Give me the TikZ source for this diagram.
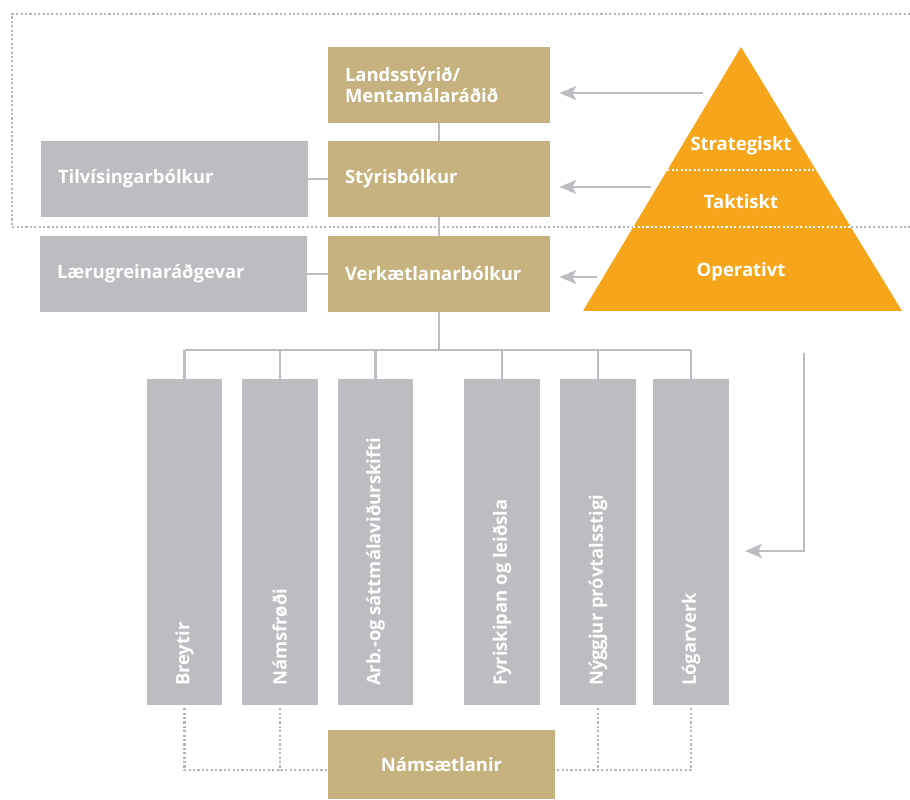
\documentclass[tikz,border=0pt]{standalone}
\usepackage{fontspec}
\setmainfont{Open Sans}
\usetikzlibrary{arrows.meta,calc}
\definecolor{tan}{RGB}{198,178,126}
\definecolor{boxgray}{RGB}{188,189,192}
\definecolor{pyrorange}{RGB}{247,166,28}
\definecolor{framegray}{RGB}{178,179,181}

\begin{document}
\begin{tikzpicture}[x=0.02cm,y=-0.02cm,
  txt/.style={text=white,font=\bfseries\fontsize{10.5}{12.5}\selectfont},
  tanbox/.style={txt,fill=tan,minimum width=4.44cm,minimum height=1.52cm,text width=3.76cm,inner xsep=0.34cm,align=left},
  graybox/.style={txt,fill=boxgray,minimum width=5.34cm,minimum height=1.52cm,text width=4.66cm,inner xsep=0.34cm,align=left},
  colbox/.style={fill=boxgray,minimum width=1.52cm,minimum height=6.52cm,inner sep=0pt},
  coltext/.style={txt,rotate=90,anchor=west,inner sep=0pt},
  conn/.style={draw=boxgray,line width=1.2pt},
  arr/.style={draw=boxgray,line width=1.6pt,-{Stealth[length=0.34cm,width=0.28cm,inset=0.08cm]}},
  dotline/.style={draw=framegray,line width=1.25pt,dash pattern=on 1.2pt off 1.3pt}]

\useasboundingbox (0,0) rectangle (910,800);

% dotted frame
\draw[dotline] (910,14) -- (12,14) -- (12,227) -- (910,227);

% left column of boxes
\node[tanbox] (lands) at (439,85) {Landsstýrið/\\Mentamálaráðið};
\node[tanbox] (styris) at (439,179) {Stýrisbólkur};
\node[tanbox] (verk) at (439,274) {Verkætlanarbólkur};
\node[graybox] (tilv) at (174.5,179) {Tilvísingarbólkur};
\node[graybox] (laer) at (173.5,274) {Lærugreinaráðgevar};

\draw[conn] (lands.south) -- (styris.north);
\draw[conn] (styris.south) -- (verk.north);
\draw[conn] (tilv.east) -- (styris.west);
\draw[conn] (laer.east) -- (verk.west);

% pyramid
\coordinate (apex) at (741,47);
\coordinate (bl) at (583,311);
\coordinate (br) at (902,311);
\fill[pyrorange] (apex) -- (bl) -- (br) -- cycle;
\draw[white,line width=1.25pt,dash pattern=on 1.2pt off 1.3pt] ($(apex)!0.466!(bl)$) -- ($(apex)!0.466!(br)$);
\draw[white,line width=1.25pt,dash pattern=on 1.2pt off 1.3pt] ($(apex)!0.682!(bl)$) -- ($(apex)!0.682!(br)$);
\node[txt] (strat) at (741,146) {Strategiskt};
\node[txt] (takt) at (741,202) {Taktiskt};
\node[txt] (oper) at (741,272) {Operativt};

% arrows from the pyramid
\coordinate (a1) at (703,93);
\coordinate (a2) at (651,187);
\coordinate (a3) at (597,277);
\draw[arr,shorten >=0.18cm] (a1) -- (a1 -| lands.east);
\draw[arr,shorten >=0.18cm] (a2) -- (a2 -| styris.east);
\draw[arr,shorten >=0.18cm] (a3) -- (a3 -| verk.east);

% columns
\coordinate (split) at (439,350);
\draw[conn] (verk.south) -- (split);
\foreach \x/\name/\label in {184.5/breytir/Breytir, 280/namsf/Námsfrøði,
    375.5/arb/Arb.-og sáttmálaviðurskifti, 502/fyri/Fyriskipan og leiðsla,
    598/nyggj/Nýggjur próvtalsstigi, 691/logar/Lógarverk}
{
  \node[colbox] (\name) at (\x,542) {};
  \node[coltext] (\name-t) at ([yshift=0.38cm]\name.south) {\label};
  \draw[conn] (\name.north) -- (\name.north |- split);
}
\draw[conn] (breytir.north |- split) -- (logar.north |- split);

\coordinate (r1) at (804,353);
\coordinate (r2) at (745,551);
\draw[arr] (r1) |- (r2);

% Námsætlanir
\node[txt,fill=tan,minimum width=4.54cm,minimum height=1.38cm] (nams) at (441.5,764.5) {Námsætlanir};
\coordinate (nw) at ([yshift=-0.11cm]nams.west);
\coordinate (ne) at ([yshift=-0.11cm]nams.east);
\draw[dotline,shorten <=0.06cm] (breytir.south) -- (breytir.south |- nw) -- (nw);
\draw[dotline,shorten <=0.06cm] (namsf.south) -- (namsf.south |- nw);
\draw[dotline,shorten <=0.06cm] (logar.south) -- (logar.south |- ne) -- (ne);
\draw[dotline,shorten <=0.06cm] (nyggj.south) -- (nyggj.south |- ne);

\end{tikzpicture}
\end{document}
